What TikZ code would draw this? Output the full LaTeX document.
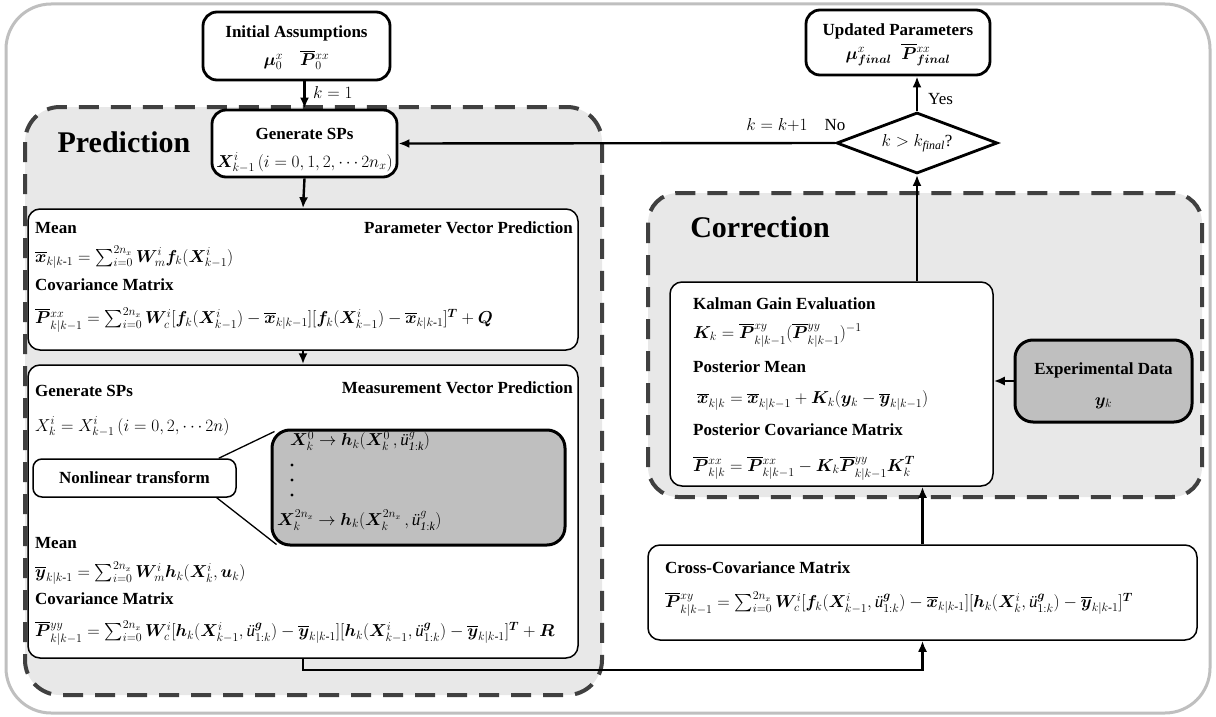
\documentclass[tikz,border=0pt]{standalone}
\usepackage{amsmath}
\usepackage{bm}
\usepackage{fontspec}
\setmainfont{Liberation Serif}
\usetikzlibrary{arrows.meta,shapes.geometric,calc}
% overbar drawn as a rule, and the ground acceleration symbol
\newcommand{\vbar}[1]{\overline{#1}}
\newcommand{\uacc}{\text{\itshape ü}}

\begin{document}
\begin{tikzpicture}[x=1pt,y=-1pt,
  every node/.style={font=\fontsize{17}{20}\selectfont, inner sep=0pt},
  frame/.style={draw, line width=1.5pt, rounded corners=12pt, fill=white},
  heavy/.style={draw, line width=2.8pt, rounded corners=14pt, fill=white},
  region/.style={draw=black!75, line width=4pt, dash pattern=on 20pt off 12pt, fill=black!9, rounded corners=35pt},
  conn/.style={line width=2.4pt, -{Latex[length=11pt,width=9pt]}},
  plain/.style={line width=1.3pt},
  head/.style={font=\fontsize{17}{20}\selectfont\bfseries, anchor=west},
  headr/.style={font=\fontsize{17}{20}\selectfont\bfseries, anchor=east},
  headc/.style={font=\fontsize{17}{20}\selectfont\bfseries},
  eq/.style={anchor=west},
  big/.style={font=\fontsize{30}{34}\selectfont\bfseries},
  shade/.style={draw, line width=3pt, rounded corners=18pt, fill=black!25}]

\useasboundingbox (0,0) rectangle (1216,717);

% outer frame
\draw[draw=black!25, line width=3pt, rounded corners=45pt, fill=white] (6,4) rectangle (1210,713);

% dashed stage regions
\draw[region] (25,107) rectangle (602,695);
\draw[region, rounded corners=30pt] (648,193) rectangle (1202,497);

\node[big] (predlbl) at (124,142) {Prediction};
\node[big] (corrlbl) at (760,227) {Correction};

% start and end boxes
\node[heavy, minimum width=187pt, minimum height=68pt] (init) at (296.5,46) {};
\node[headc] (initT) at (296.5,33) {Initial Assumptions};
\node (initF) at (296.5,60) {$\bm{\mu}_0^x\quad \vbar{\bm{P}}{}_0^{xx}$};

\node[heavy, minimum width=184pt, minimum height=65pt] (upd) at (898,42.5) {};
\node[headc] (updT) at (898,31) {Updated Parameters};
\node (updF) at (898,55) {$\bm{\mu}^x_{\bm{final}}\;\; \vbar{\bm{P}}{}^{xx}_{\bm{final}}$};

% sigma point generation
\node[heavy, minimum width=185pt, minimum height=67pt] (gen) at (304.5,143.5) {};
\node[headc] (genT) at (304.5,134) {Generate SPs};
\node (genF) at (304.5,163) {$\bm{X}^i_{k-1}\left(i=0,1,2,\cdots 2n_x\right)$};

% decision
\node[draw, shape=diamond, line width=2.8pt, fill=white, minimum width=161pt, minimum height=61pt, aspect=2.6] (dia) at (917,143) {$k>k_{\mathit{final}}$?};

% parameter vector prediction
\node[frame, minimum width=550pt, minimum height=141pt] (param) at (303,279.5) {};
\node[head] (pMean) at (35,228) {Mean};
\node[headr] (pTitle) at (573,228) {Parameter Vector Prediction};
\node[eq] (pMeanF) at (35,257) {$\vbar{\bm{x}}_{k|k\text{-}1}=\sum_{i=0}^{2n_x}\bm{W}_{m}^i\bm{f}_k(\bm{X}^i_{k-1})$};
\node[head] (pCov) at (35,285) {Covariance Matrix};
\node[eq] (pCovF) at (35,320) {$\vbar{\bm{P}}{}^{xx}_{k|k-1}=\sum_{i=0}^{2n_x}\bm{W}_{c}^i[\bm{f}_k(\bm{X}^i_{k-1})-\vbar{\bm{x}}_{k|k-1}][\bm{f}_k(\bm{X}^i_{k-1})-\vbar{\bm{x}}_{k|k\text{-}1}]^{\bm{T}}+\bm{Q}$};

% measurement vector prediction
\node[frame, minimum width=550pt, minimum height=293pt] (meas) at (303,511.5) {};
\node[head] (mGen) at (35,391) {Generate SPs};
\node[headr] (mTitle) at (573,388) {Measurement Vector Prediction};
\node[eq] (mGenF) at (35,427) {$X^i_k=X^i_{k-1}\left(i=0,2,\cdots 2n\right)$};
\node[frame, rounded corners=9pt, minimum width=203pt, minimum height=38pt, font=\fontsize{17}{20}\selectfont\bfseries] (nl) at (134.5,478) {Nonlinear transform};
\node[shade, minimum width=293pt, minimum height=115pt] (grayb) at (418.5,487.5) {};
\draw[plain] ($(nl.north east)+(-18,0)$) -- ($(grayb.north west)+(4,3)$);
\draw[plain] ($(nl.south east)+(-20,0)$) -- ($(grayb.south west)+(6,-2)$);
\node[eq] (gF1) at (290,441) {$\bm{X}^0_k\rightarrow \bm{h}_k(\bm{X}^0_k\,,\uacc^g_{\mathit{1:k}})$};
\fill (292,465) circle (1.6pt) (292,480) circle (1.6pt) (292,495) circle (1.6pt);
\node[eq] (gF2) at (277,520) {$\bm{X}^{2n_x}_k\rightarrow\bm{h}_k(\bm{X}^{2n_x}_k\,,\uacc^g_{\mathit{1:k}})$};
\node[head] (mMean) at (35,543) {Mean};
\node[eq] (mMeanF) at (35,573) {$\vbar{\bm{y}}_{k|k\text{-}1}=\sum_{i=0}^{2n_x}\bm{W}_{m}^i\bm{h}_k(\bm{X}^i_k,\bm{u}_k)$};
\node[head] (mCov) at (35,599) {Covariance Matrix};
\node[eq] (mCovF) at (35,633) {$\vbar{\bm{P}}{}^{yy}_{k|k-1}=\sum_{i=0}^{2n_x}\bm{W}_{c}^i[\bm{h}_k(\bm{X}^i_{k-1},\uacc^{\bm{g}}_{1:k})-\vbar{\bm{y}}_{k|k\text{-}1}][\bm{h}_k(\bm{X}^i_{k-1},\uacc^{\bm{g}}_{1:k})-\vbar{\bm{y}}_{k|k\text{-}1}]^{\bm{T}}+\bm{R}$};

% correction
\node[frame, minimum width=323pt, minimum height=204pt] (kal) at (831.5,384) {};
\node[head] (kT) at (693,304) {Kalman Gain Evaluation};
\node[eq] (kF) at (693,335) {$\bm{K}_k=\vbar{\bm{P}}{}^{xy}_{k|k-1}(\vbar{\bm{P}}{}^{yy}_{k|k-1})^{-1}$};
\node[head] (kM) at (693,367) {Posterior Mean};
\node[eq] (kMF) at (697,401) {$\vbar{\bm{x}}_{k|k}=\vbar{\bm{x}}_{k|k-1}+\bm{K}_k(\bm{y}_k-\vbar{\bm{y}}_{k|k-1})$};
\node[head] (kC) at (693,430) {Posterior Covariance Matrix};
\node[eq] (kCF) at (693,468) {$\vbar{\bm{P}}{}^{xx}_{k|k}=\vbar{\bm{P}}{}^{xx}_{k|k-1}-\bm{K}_k\vbar{\bm{P}}{}^{yy}_{k|k-1}\bm{K}_k^{\bm{T}}$};

\node[shade, minimum width=177pt, minimum height=82pt] (exp) at (1103.5,381) {};
\node[headc] (expT) at (1103.5,370) {Experimental Data};
\node (expF) at (1103.5,403) {$\bm{y}_k$};

\node[frame, minimum width=549pt, minimum height=95pt] (cross) at (922.5,592.5) {};
\node[head] (cT) at (665,568) {Cross-Covariance Matrix};
\node[eq] (cF) at (665,604) {$\vbar{\bm{P}}{}^{xy}_{k|k-1}=\sum_{i=0}^{2n_x}\bm{W}_{c}^i[\bm{f}_k(\bm{X}^i_{k-1},\uacc^{\bm{g}}_{1:k})-\vbar{\bm{x}}_{k|k\text{-}1}][\bm{h}_k(\bm{X}^i_k,\uacc^{\bm{g}}_{1:k})-\vbar{\bm{y}}_{k|k\text{-}1}]^{\bm{T}}$};

% connectors
\draw[conn] (gen.north |- init.south) -- (gen.north);
\node[anchor=west] (k1) at (313,93) {$k=1$};
\draw[conn] (dia.west) -- (gen.east);
\node (kinc) at (777,125) {$k=k{+}1$};
\node (no) at (835,125) {No};
\draw[conn] (dia.north) -- (dia.north |- upd.south);
\node[anchor=west] (yes) at (928,99) {Yes};
\draw[conn] (dia.south |- kal.north) -- (dia.south);
\draw[conn] (gen.south) -- (param.north);
\draw[conn] (param.south) -- (meas.north);
\coordinate (turn) at (303,670);
\draw[conn] (meas.south) -- (meas.south |- turn) -| (cross.south);
\draw[conn] (cross.north) -- (cross.north |- kal.south);
\draw[conn] (exp.west) -- (exp.west -| kal.east);

\end{tikzpicture}
\end{document}
